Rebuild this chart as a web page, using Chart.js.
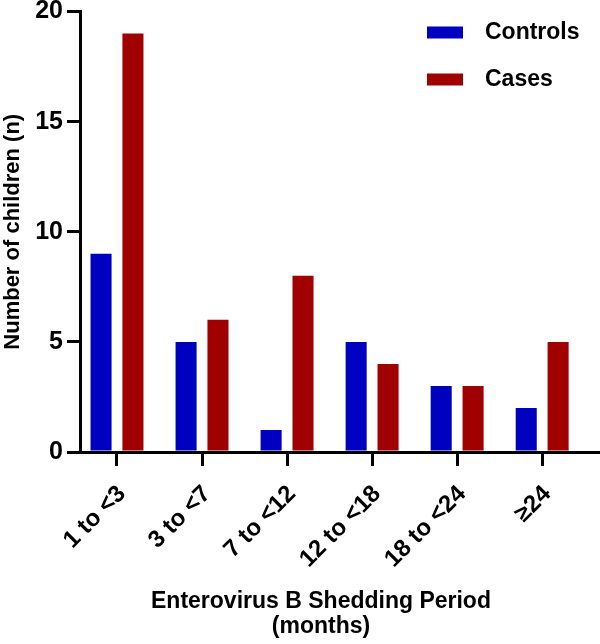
<!DOCTYPE html>
<html>
<head>
<meta charset="utf-8">
<script src="https://cdn.jsdelivr.net/npm/chart.js@4.4.1/dist/chart.umd.min.js"></script>
<style>
  html, body { margin: 0; padding: 0; background: #fff; }
  #wrap { width: 600px; height: 644px; position: relative; }
</style>
</head>
<body>
<div id="wrap"><canvas id="chart"></canvas></div>
<script>
// data
var periods = ['1 to <3', '3 to <7', '7 to <12', '12 to <18', '18 to <24', '\u226524'];
var controls = [9, 5, 1, 5, 3, 2];
var cases = [19, 6, 8, 4, 3, 5];
var yTicks = [0, 5, 10, 15, 20];
var xTitle = ['Enterovirus B Shedding Period', '(months)'];

var FONT = 'Liberation Sans, Arial, Helvetica, sans-serif';

function points(values) {
    return values.map(function (v, i) { return { x: i, y: v }; });
}

// legend stacked in the upper right, inside the plot
var boxLegend = {
    id: 'boxLegend',
    afterDraw: function (chart) {
        var ctx = chart.ctx;
        var area = chart.chartArea;
        ctx.save();
        ctx.font = 'bold 23px ' + FONT;
        ctx.textBaseline = 'middle';
        ctx.textAlign = 'left';
        chart.data.datasets.forEach(function (ds, i) {
            var y = area.top + 21 + i * 47;
            ctx.fillStyle = ds.backgroundColor;
            ctx.fillRect(area.right - 173, y - 6, 36, 12);
            ctx.fillStyle = '#000';
            ctx.fillText(ds.label, area.right - 115, y);
        });
        ctx.restore();
    }
};

// x title sits a little left of the plot centre in the original
var bottomTitle = {
    id: 'bottomTitle',
    afterDraw: function (chart) {
        var ctx = chart.ctx;
        var area = chart.chartArea;
        var cx = (area.left + area.right) / 2 - 19;
        ctx.save();
        ctx.font = 'bold 23px ' + FONT;
        ctx.textBaseline = 'middle';
        ctx.textAlign = 'center';
        ctx.fillStyle = '#000';
        xTitle.forEach(function (line, i) {
            ctx.fillText(line, cx, 602 + i * 25);
        });
        ctx.restore();
    }
};

var ctx = document.getElementById('chart');
var chart = new Chart(ctx, {
    type: 'bar',
    data: {
        datasets: [{
            label: 'Controls',
            data: points(controls),
            backgroundColor: '#0000c0'
        }, {
            label: 'Cases',
            data: points(cases),
            backgroundColor: '#a00000'
        }]
    },
    options: {
        responsive: true,
        maintainAspectRatio: false,
        animation: false,
        layout: { padding: { top: 9, right: 0, left: 0, bottom: 0 } },
        categoryPercentage: 0.75,
        barPercentage: 0.66,
        plugins: {
            legend: { display: false },
            tooltip: { enabled: false }
        },
        scales: {
            x: {
                type: 'linear',
                offset: false,
                min: -0.435,
                max: 5.68,
                afterBuildTicks: function (scale) {
                    scale.ticks = periods.map(function (p, i) { return { value: i }; });
                },
                afterFit: function (scale) { scale.height = 192; },
                grid: {
                    display: true,
                    offset: false,
                    drawOnChartArea: false,
                    drawTicks: true,
                    tickLength: 14,
                    lineWidth: 3,
                    color: '#000'
                },
                border: { display: true, color: '#000', width: 3 },
                ticks: {
                    autoSkip: false,
                    minRotation: 45,
                    maxRotation: 45,
                    padding: 14,
                    labelOffset: 5,
                    color: '#000',
                    font: { family: FONT, size: 24, weight: 'bold' },
                    callback: function (v) { return periods[v]; }
                },
                title: { display: false }
            },
            y: {
                min: 0,
                max: 20,
                afterBuildTicks: function (scale) {
                    scale.ticks = yTicks.map(function (v) { return { value: v }; });
                },
                afterFit: function (scale) { scale.width = 80; },
                grid: {
                    display: true,
                    drawOnChartArea: false,
                    drawTicks: true,
                    tickLength: 13,
                    lineWidth: 3,
                    color: '#000'
                },
                border: { display: true, color: '#000', width: 3 },
                ticks: {
                    padding: 4,
                    color: '#000',
                    font: { family: FONT, size: 25, weight: 'bold', lineHeight: 0.6 }
                },
                title: {
                    display: true,
                    text: 'Number of children (n)',
                    color: '#000',
                    font: { family: FONT, size: 22, weight: 'bold', lineHeight: 1.05 },
                    padding: { top: 1, bottom: 0 }
                }
            }
        }
    },
    plugins: [boxLegend, bottomTitle]
});
</script>
</body>
</html>
